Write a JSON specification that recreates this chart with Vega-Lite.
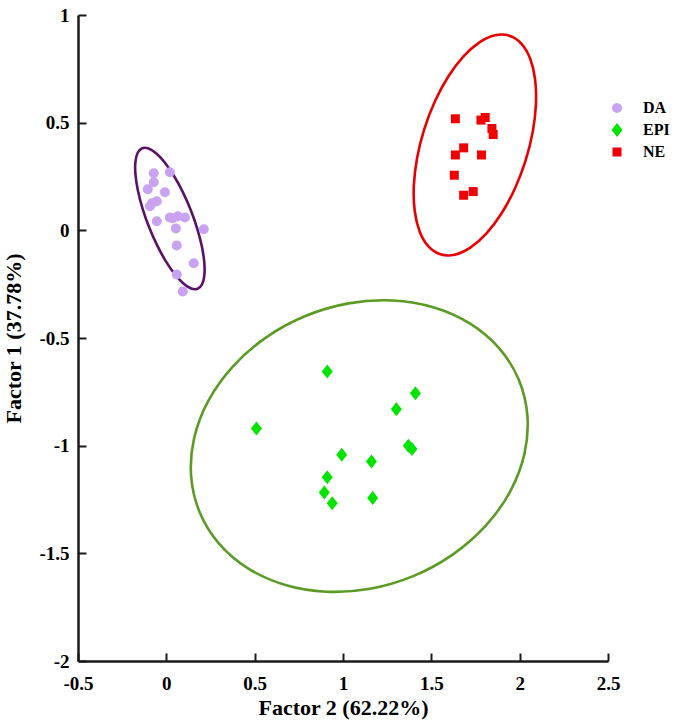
{
  "$schema": "https://vega.github.io/schema/vega-lite/v6.json",
  "width": 530,
  "height": 646,
  "autosize": {"type": "none"},
  "padding": {"left": 78, "top": 15, "right": 67, "bottom": 67},
  "background": "white",
  "config": {
    "view": {"stroke": null},
    "font": "Liberation Serif",
    "axis": {
      "grid": false,
      "domainColor": "#1a1a1a",
      "domainWidth": 2.5,
      "tickColor": "#1a1a1a",
      "tickWidth": 2,
      "tickSize": -8,
      "labelFont": "Liberation Serif",
      "labelFontWeight": "bold",
      "labelFontSize": 19,
      "labelColor": "black",
      "labelFlush": false,
      "titleFont": "Liberation Serif",
      "titleFontWeight": "bold",
      "titleFontSize": 22,
      "titleColor": "black"
    },
    "legend": {
      "labelFont": "Liberation Serif",
      "labelFontWeight": "bold",
      "labelFontSize": 16,
      "labelColor": "black"
    }
  },
  "datasets": {
    "points": [
      {"group": "DA", "x": -0.071, "y": 0.265},
      {"group": "DA", "x": 0.02, "y": 0.27},
      {"group": "DA", "x": -0.105, "y": 0.191},
      {"group": "DA", "x": -0.071, "y": 0.223},
      {"group": "DA", "x": -0.008, "y": 0.177},
      {"group": "DA", "x": -0.082, "y": 0.126},
      {"group": "DA", "x": -0.054, "y": 0.135},
      {"group": "DA", "x": -0.093, "y": 0.112},
      {"group": "DA", "x": -0.054, "y": 0.042},
      {"group": "DA", "x": 0.02, "y": 0.06},
      {"group": "DA", "x": 0.065, "y": 0.065},
      {"group": "DA", "x": 0.105, "y": 0.06},
      {"group": "DA", "x": 0.037, "y": 0.056},
      {"group": "DA", "x": 0.054, "y": 0.009},
      {"group": "DA", "x": 0.212, "y": 0.005},
      {"group": "DA", "x": 0.059, "y": -0.07},
      {"group": "DA", "x": 0.155, "y": -0.153},
      {"group": "DA", "x": 0.059, "y": -0.205},
      {"group": "DA", "x": 0.093, "y": -0.284},
      {"group": "EPI", "x": 0.911, "y": -0.656},
      {"group": "EPI", "x": 1.41, "y": -0.757},
      {"group": "EPI", "x": 1.302, "y": -0.831},
      {"group": "EPI", "x": 0.51, "y": -0.92},
      {"group": "EPI", "x": 1.37, "y": -1.0},
      {"group": "EPI", "x": 1.39, "y": -1.015},
      {"group": "EPI", "x": 0.993, "y": -1.042},
      {"group": "EPI", "x": 1.161, "y": -1.074},
      {"group": "EPI", "x": 0.911, "y": -1.147},
      {"group": "EPI", "x": 0.894, "y": -1.217},
      {"group": "EPI", "x": 0.939, "y": -1.267},
      {"group": "EPI", "x": 1.168, "y": -1.243},
      {"group": "NE", "x": 1.636, "y": 0.518},
      {"group": "NE", "x": 1.781, "y": 0.512},
      {"group": "NE", "x": 1.805, "y": 0.524},
      {"group": "NE", "x": 1.843, "y": 0.473},
      {"group": "NE", "x": 1.85, "y": 0.445},
      {"group": "NE", "x": 1.683, "y": 0.383},
      {"group": "NE", "x": 1.636, "y": 0.35},
      {"group": "NE", "x": 1.784, "y": 0.35},
      {"group": "NE", "x": 1.63, "y": 0.256},
      {"group": "NE", "x": 1.683, "y": 0.163},
      {"group": "NE", "x": 1.737, "y": 0.18}
    ],
    "ellipses": [
      {"group": "DA", "i": 0, "x": 0.1769, "y": -0.2715},
      {"group": "DA", "i": 1, "x": 0.2023, "y": -0.2505},
      {"group": "DA", "i": 2, "x": 0.2152, "y": -0.2086},
      {"group": "DA", "i": 3, "x": 0.2148, "y": -0.1488},
      {"group": "DA", "i": 4, "x": 0.2012, "y": -0.0752},
      {"group": "DA", "i": 5, "x": 0.1752, "y": 0.0073},
      {"group": "DA", "i": 6, "x": 0.1387, "y": 0.0931},
      {"group": "DA", "i": 7, "x": 0.0941, "y": 0.1762},
      {"group": "DA", "i": 8, "x": 0.0444, "y": 0.2511},
      {"group": "DA", "i": 9, "x": -0.0069, "y": 0.3126},
      {"group": "DA", "i": 10, "x": -0.0564, "y": 0.3565},
      {"group": "DA", "i": 11, "x": -0.1007, "y": 0.3799},
      {"group": "DA", "i": 12, "x": -0.1367, "y": 0.3811},
      {"group": "DA", "i": 13, "x": -0.1621, "y": 0.3601},
      {"group": "DA", "i": 14, "x": -0.175, "y": 0.3182},
      {"group": "DA", "i": 15, "x": -0.1746, "y": 0.2584},
      {"group": "DA", "i": 16, "x": -0.161, "y": 0.1848},
      {"group": "DA", "i": 17, "x": -0.135, "y": 0.1023},
      {"group": "DA", "i": 18, "x": -0.0985, "y": 0.0165},
      {"group": "DA", "i": 19, "x": -0.0539, "y": -0.0666},
      {"group": "DA", "i": 20, "x": -0.0042, "y": -0.1415},
      {"group": "DA", "i": 21, "x": 0.0471, "y": -0.203},
      {"group": "DA", "i": 22, "x": 0.0966, "y": -0.2469},
      {"group": "DA", "i": 23, "x": 0.1409, "y": -0.2703},
      {"group": "EPI", "i": 0, "x": 1.9956, "y": -0.6951},
      {"group": "EPI", "i": 1, "x": 2.0438, "y": -0.8618},
      {"group": "EPI", "i": 2, "x": 2.0271, "y": -1.0381},
      {"group": "EPI", "i": 3, "x": 1.9467, "y": -1.2119},
      {"group": "EPI", "i": 4, "x": 1.8081, "y": -1.3714},
      {"group": "EPI", "i": 5, "x": 1.6206, "y": -1.5057},
      {"group": "EPI", "i": 6, "x": 1.3972, "y": -1.6057},
      {"group": "EPI", "i": 7, "x": 1.153, "y": -1.6645},
      {"group": "EPI", "i": 8, "x": 0.9046, "y": -1.6782},
      {"group": "EPI", "i": 9, "x": 0.669, "y": -1.6458},
      {"group": "EPI", "i": 10, "x": 0.4622, "y": -1.5695},
      {"group": "EPI", "i": 11, "x": 0.2984, "y": -1.4545},
      {"group": "EPI", "i": 12, "x": 0.1886, "y": -1.3087},
      {"group": "EPI", "i": 13, "x": 0.1404, "y": -1.142},
      {"group": "EPI", "i": 14, "x": 0.1571, "y": -0.9657},
      {"group": "EPI", "i": 15, "x": 0.2375, "y": -0.7919},
      {"group": "EPI", "i": 16, "x": 0.3761, "y": -0.6324},
      {"group": "EPI", "i": 17, "x": 0.5636, "y": -0.4981},
      {"group": "EPI", "i": 18, "x": 0.787, "y": -0.3981},
      {"group": "EPI", "i": 19, "x": 1.0312, "y": -0.3393},
      {"group": "EPI", "i": 20, "x": 1.2796, "y": -0.3256},
      {"group": "EPI", "i": 21, "x": 1.5152, "y": -0.358},
      {"group": "EPI", "i": 22, "x": 1.722, "y": -0.4343},
      {"group": "EPI", "i": 23, "x": 1.8858, "y": -0.5493},
      {"group": "NE", "i": 0, "x": 1.9417, "y": 0.9038},
      {"group": "NE", "i": 1, "x": 2.0092, "y": 0.8673},
      {"group": "NE", "i": 2, "x": 2.0587, "y": 0.7988},
      {"group": "NE", "i": 3, "x": 2.087, "y": 0.7028},
      {"group": "NE", "i": 4, "x": 2.0921, "y": 0.5859},
      {"group": "NE", "i": 5, "x": 2.0737, "y": 0.4561},
      {"group": "NE", "i": 6, "x": 2.0329, "y": 0.3222},
      {"group": "NE", "i": 7, "x": 1.9726, "y": 0.1933},
      {"group": "NE", "i": 8, "x": 1.8969, "y": 0.0783},
      {"group": "NE", "i": 9, "x": 1.811, "y": -0.0151},
      {"group": "NE", "i": 10, "x": 1.7207, "y": -0.0804},
      {"group": "NE", "i": 11, "x": 1.6321, "y": -0.1132},
      {"group": "NE", "i": 12, "x": 1.5513, "y": -0.1114},
      {"group": "NE", "i": 13, "x": 1.4838, "y": -0.0749},
      {"group": "NE", "i": 14, "x": 1.4343, "y": -0.0064},
      {"group": "NE", "i": 15, "x": 1.406, "y": 0.0896},
      {"group": "NE", "i": 16, "x": 1.4009, "y": 0.2065},
      {"group": "NE", "i": 17, "x": 1.4193, "y": 0.3363},
      {"group": "NE", "i": 18, "x": 1.4601, "y": 0.4702},
      {"group": "NE", "i": 19, "x": 1.5204, "y": 0.5991},
      {"group": "NE", "i": 20, "x": 1.5961, "y": 0.7141},
      {"group": "NE", "i": 21, "x": 1.682, "y": 0.8075},
      {"group": "NE", "i": 22, "x": 1.7723, "y": 0.8728},
      {"group": "NE", "i": 23, "x": 1.8609, "y": 0.9056}
    ]
  },
  "encoding": {
    "x": {
      "field": "x", "type": "quantitative",
      "scale": {"domain": [-0.5, 2.5], "nice": false, "zero": false},
      "axis": {"title": "Factor 2 (62.22%)", "values": [-0.5, 0, 0.5, 1, 1.5, 2, 2.5], "labelExpr": "toString(datum.value)", "labelPadding": 21, "titlePadding": 4}
    },
    "y": {
      "field": "y", "type": "quantitative",
      "scale": {"domain": [-2, 1], "nice": false, "zero": false},
      "axis": {"title": "Factor 1 (37.78%)", "values": [-2, -1.5, -1, -0.5, 0, 0.5, 1], "labelExpr": "toString(datum.value)", "labelPadding": 17, "titlePadding": 13}
    }
  },
  "layer": [
    {
      "data": {"name": "ellipses"},
      "transform": [{"filter": "datum.group === 'DA'"}],
      "mark": {"type": "line", "interpolate": "cardinal-closed", "strokeWidth": 2.6, "color": "#5a1266"},
      "encoding": {"order": {"field": "i", "type": "quantitative"}}
    },
    {
      "data": {"name": "ellipses"},
      "transform": [{"filter": "datum.group === 'EPI'"}],
      "mark": {"type": "line", "interpolate": "cardinal-closed", "strokeWidth": 2.6, "color": "#5b9a25"},
      "encoding": {"order": {"field": "i", "type": "quantitative"}}
    },
    {
      "data": {"name": "ellipses"},
      "transform": [{"filter": "datum.group === 'NE'"}],
      "mark": {"type": "line", "interpolate": "cardinal-closed", "strokeWidth": 2.6, "color": "#e60000"},
      "encoding": {"order": {"field": "i", "type": "quantitative"}}
    },
    {
      "data": {"name": "points"},
      "mark": {"type": "point", "filled": true, "opacity": 1, "size": 100},
      "encoding": {
        "color": {
          "field": "group", "type": "nominal",
          "scale": {"domain": ["DA", "EPI", "NE"], "range": ["#c9a2f2", "#00e400", "#f00000"]},
          "legend": {"title": null, "orient": "none", "legendX": 531, "legendY": 85, "labelOffset": 18, "rowPadding": 6, "symbolSize": 100}
        },
        "shape": {
          "field": "group", "type": "nominal",
          "scale": {"domain": ["DA", "EPI", "NE"], "range": ["circle", "M0,-1.4L1.1,0L0,1.4L-1.1,0Z", "M-0.9,-0.9H0.9V0.9H-0.9Z"]},
          "legend": {"title": null, "orient": "none", "legendX": 531, "legendY": 85, "labelOffset": 18, "rowPadding": 6, "symbolSize": 100}
        }
      }
    }
  ]
}
